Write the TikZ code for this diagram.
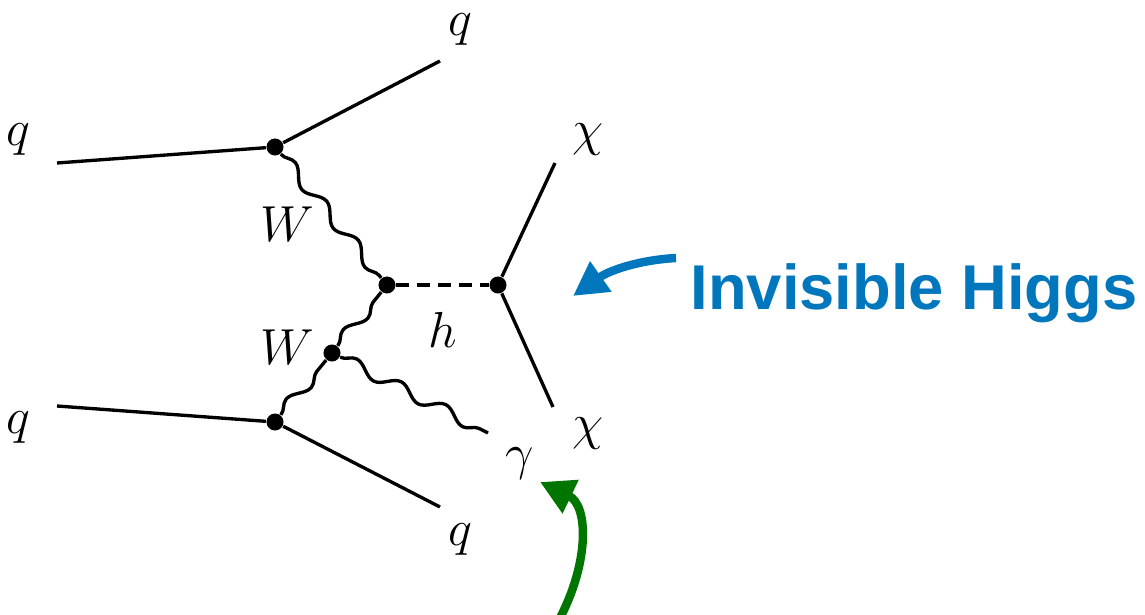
\documentclass[tikz,border=0pt]{standalone}
\usepackage{fontspec}
\newfontfamily\calloutfont{Liberation Sans}
\usetikzlibrary{decorations.pathmorphing,arrows.meta}
\definecolor{higgsblue}{RGB}{0,118,188}
\definecolor{photongreen}{RGB}{0,118,0}

\begin{document}
\begin{tikzpicture}[x=0.01cm, y=-0.01cm]
    % Define styles
    \tikzstyle{vertex} = [circle, fill=black, inner sep=0pt, minimum size=0.17cm]
    \tikzstyle{fermion} = [line width=0.95pt]
    \tikzstyle{boson} = [line width=0.95pt, decorate, decoration={snake, amplitude=0.06cm, segment length=0.5cm}]
    \tikzstyle{scalar} = [line width=0.95pt, dash pattern=on 0.13cm off 0.08cm]
    \tikzstyle{particle} = [inner sep=1pt, font=\fontsize{14}{16}\selectfont]
    \tikzstyle{pointer} = [line width=2.4pt, -{Triangle[length=0.34cm, width=0.35cm]}]

    \useasboundingbox (0,0) rectangle (1145,615);

    % Vertices
    \node[vertex] (topvtx) at (275,147) {};
    \node[vertex] (fusevtx) at (387,285) {};
    \node[vertex] (decayvtx) at (498,285) {};
    \node[vertex] (radvtx) at (332,353) {};
    \node[vertex] (botvtx) at (275,422) {};

    % External legs
    \coordinate (qinA) at (57,163);
    \coordinate (qoutA) at (440,61);
    \coordinate (qinB) at (57,406);
    \coordinate (qoutB) at (440,507);
    \coordinate (chiA) at (555,163);
    \coordinate (chiB) at (553,407);
    \coordinate (photon) at (488,433);

    % Labels
    \node[particle] (lqinA) at (18,140) {$q$};
    \node[particle] (lqoutA) at (460,30) {$q$};
    \node[particle] (lqinB) at (18,428) {$q$};
    \node[particle] (lqoutB) at (460,540) {$q$};
    \node[particle] (lWA) at (287,224) {$W$};
    \node[particle] (lWB) at (287,347) {$W$};
    \node[particle] (lh) at (443,330) {$h$};
    \node[particle] (lchiA) at (588,140) {$\chi$};
    \node[particle] (lchiB) at (588,434) {$\chi$};
    \node[particle] (lgamma) at (520,464) {$\gamma$};

    % Lines
    \draw[fermion] (qinA) -- (topvtx);
    \draw[fermion] (topvtx) -- (qoutA);
    \draw[fermion] (qinB) -- (botvtx);
    \draw[fermion] (botvtx) -- (qoutB);
    \draw[fermion] (decayvtx) -- (chiA);
    \draw[fermion] (decayvtx) -- (chiB);
    \draw[boson] (topvtx) -- (fusevtx);
    \draw[boson] (botvtx) -- (radvtx);
    \draw[boson] (radvtx) -- (fusevtx);
    \draw[boson] (radvtx) -- (photon);
    \draw[scalar] (fusevtx) -- (decayvtx);

    % Callouts
    \node[anchor=base west, inner sep=0pt, text=higgsblue, font=\calloutfont\bfseries\fontsize{18}{20}\selectfont] (invis) at (690,309) {Invisible Higgs};
    \coordinate (bluetail) at (676,258);
    \coordinate (bluetip) at (573,296);
    \coordinate (greentail) at (560,618);
    \coordinate (greentip) at (540,482);
    \draw[pointer, higgsblue] (bluetail) .. controls (640,260) and (610,270) .. (bluetip);
    \draw[pointer, photongreen] (greentail) .. controls (590,560) and (588,505) .. (greentip);
\end{tikzpicture}
\end{document}
